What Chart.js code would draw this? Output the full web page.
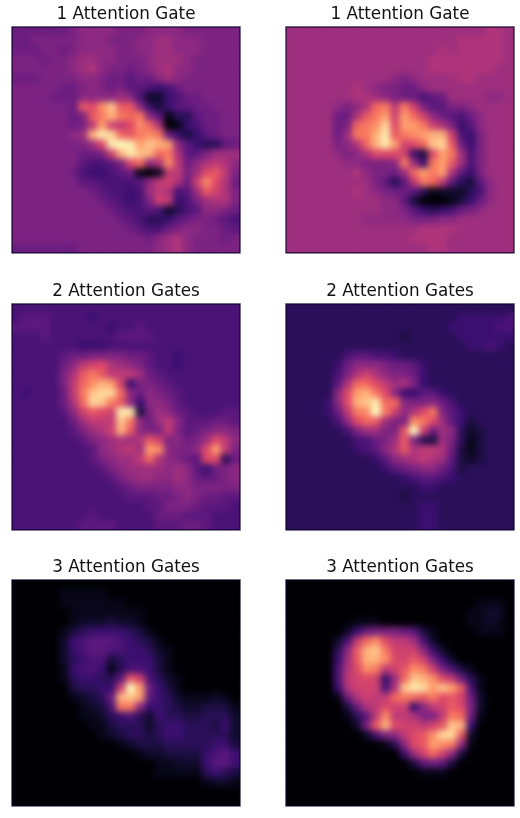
<!DOCTYPE html>
<html>
<head>
<meta charset="utf-8">
<script src="https://cdn.jsdelivr.net/npm/chart.js@4"></script>
<style>
  html, body { margin: 0; padding: 0; background: #fff; }
  #page { position: relative; width: 520px; height: 818px; overflow: hidden; }
  #page div { position: absolute; width: 252px; height: 260px; }
</style>
</head>
<body>
<div id="page"></div>
<script>
// a = lowest of the colour scale, z = highest, spaces only make the rows easier to count
const gate1Left = [
  'iiiiii jkkkkj jjkkkk jjjjjj',
  'iijjjj jkkkjj jkkllk kkjjjj',
  'iiijji jkkkkj jkkllk kkjjjj',
  'jjjijj kllkkj jjklll kjjjjj',
  'jjjjjj klmkjj ijklmk kjjjjj',
  'iiijjj jkkjii hiiklk jjjjjj',
  'jjjjji ijkjij hhgfgi jjjjjj',
  'jjjjii ikkkkl kgccfg iijjjj',
  'jjjjjj iqptwq qkfdfh hiijjj',
  'jjjjjj ijqsvs rskhbe ehiijj',
  'jjjjjj ijnuon ptrmab fgiijj',
  'jjjjjj klvyxr qstsif dfhijj',
  'jjjjjj jjlpyz yuwvuk hfeehi',
  'jjjjjj jiijov ywvrsm hhjlll',
  'jjjjjj jhgghj prkmtn ikmnmk',
  'jjjjjj igffgh ibacnn jlpqnj',
  'jjjjjj jhhggg ghknom iotpmi',
  'jjjjjj jjihgg fglnmg hlqomj',
  'jjjjjj jjjihg fgjonf gjlmmj',
  'jjjjjj jjjjih gghgce ghkkji',
  'jjjjjj jjjjji hgeefh ijjihg',
  'jjjjjj jjjjjj ihggij kkjjih',
  'jjjjjj jjjjjj jjiklm kjjjij',
  'iiiiii ijjjjj jjjklm kjjjjj'
]
const gate1Right = [
  'llllll llllll llllll lllmml',
  'llllll llllll llllll mmmmml',
  'llllll llllll llllml mmmmml',
  'llllll llllll lllmmm mmmmml',
  'llllll llllll lllmmm mmmmll',
  'llllll lllllk jkllll mmllll',
  'llllll lmlkjj iiklll llllll',
  'llllll lmmlkj iighil lllkkl',
  'lllllk jkmrsn sojhhj jkllll',
  'llllli imqsuo urokih giklll',
  'llllli jrstxp uusomj fhklll',
  'llllli lssvyq stuvvo gfjlll',
  'lllllj kmrvyu oprwxq ifjlll',
  'lllllk jkmppp ofdpus lgjlll',
  'llllll kkjjjk slfsuq lgjlll',
  'llllll lmkjji lrusum hfjlll',
  'llllll llljhe hnsrnh edhkll',
  'llllll lmlkji ihebcc cegkll',
  'llllll llllkk hdaaab dfikll',
  'llllll llllkk jhfefg ijklll',
  'llllll llkkkk kjjjkk llllll',
  'llllll llllll llmmmm llllll',
  'llllll llllll lmmmml llllll',
  'llllll llllll lllmml llllll'
]
const gate2Left = [
  'gggggg gggggg gggggg gggggg',
  'ghhhgg ggfggg gggggg gggggg',
  'hhhhgg ggggfg ghgggg gggggg',
  'ggghgg gggggh hhhggg gggggg',
  'gggggg gfffgg gggggg gggggg',
  'gggggh iijjjj iihggf gggggg',
  'gggggi knopml kjhggf gggggg',
  'gggggj mqsqnn nlihgg gggggg',
  'gggggj nrtvuo fjjihg gggggg',
  'gfgggi nswxxr kikjih gggggg',
  'gggggi mrxwsq kfkkjh gggggg',
  'gggggh koqpoy ydjlki hggghh',
  'gggggg ilnnnw skilnk hhhiih',
  'gggggg hjlmov qkjjnj hijkkj',
  'gggggg ghjklm lmqojk ijlpnk',
  'gggggg gghklm nlutkj jkpunj',
  'gggggg gghjkl lnrmkj ihppei',
  'gggggg ggghjk llllkl khfijk',
  'gggggg gggghj kllkkl kihijk',
  'gggggg gggggh ijjjjk kjjjjj',
  'gggggg gggggg hhhiij kjiihh',
  'gggggg gggggg gghhjj jihhhg',
  'gggggg gghggg gggiii hhhggg',
  'gggggg ghhhhg ggghhh iihggg'
]
const gate2Right = [
  'eeeeee eeeeee eeeeee eeeeee',
  'eeeeee eeeeee eeeeee fffffg',
  'eeeeee eeeeee eeeeef ffffgg',
  'eeeeee eeeeee deeeee ffffff',
  'eeeeee eeeeee eeeeee effgfe',
  'eeeeee ghhggf eeeeee eeeeee',
  'eeeeef ikkkji ihfeee eeeeee',
  'eeeeeg jmomkj jifeee eeeeee',
  'eeeeeh mrrpnl mjfeee eeeeee',
  'eeeeek puvspk ffhhfe eeeeee',
  'eeeefk pvwyrr kjjkig eeeeee',
  'eeeefi nstzso kmpsjh feeeee',
  'eeeeeg kprqlj jtsplh fdeeee',
  'eeeeee gjlljj qzoilk ecdeee',
  'eeeeee eggijl qjedlj ebdeee',
  'eeeeee efghkm qmnnmi dbdeee',
  'eeeeee eeefhk lmnmlh dcdeee',
  'eeeeee eeeefh ijkkig deeeee',
  'eeeeee eeeeee fghhgf eeeeee',
  'eeeeee eeeeee eeffee eeeeee',
  'eeeeee eeeeee deeeee eeeeee',
  'eeeeee eeeeee eeffee eeeeee',
  'eeeeee eeeeee eeffee eeeeee',
  'eeeeee eeeeee eeffee eeeeee'
]
const gate3Left = [
  'aaaaaa aaaaaa aaaaaa aaaaaa',
  'aaaaab bbbbaa aaaaaa aaaaaa',
  'aaaaab bbbbbb aaaaaa aaaaaa',
  'aaaaaa bbbbbb bbaaaa aaaaaa',
  'aaaaaa bcccdc cbaaaa aaaaaa',
  'aaaaab deffff edbaaa aaaaaa',
  'aaaaac fghhhg fedbaa aaaaaa',
  'aaaaac fghhgg ffecba aaaaaa',
  'aaaaac efggde fffdba aaaaaa',
  'aaaaab fggfbe ggfdba aaaaaa',
  'aaaaab effeeh qogecb aaaaaa',
  'aaaaaa deeffo zuifdb aaaaaa',
  'aaaaaa bcdeiv wuhfec bbbcba',
  'aaaaaa abcdgs skffed ccdddb',
  'aaaaaa abbcef gecfee ddeeec',
  'aaaaaa aabbde eeceff eeedfc',
  'aaaaaa aaabcd eedeff eeeeec',
  'aaaaaa aaaaab cdddee eeeffd',
  'aaaaaa aaaaaa abccdd ddfghf',
  'aaaaaa aaaaaa aaabbc ccfhhf',
  'aaaaaa aaaaaa aaabbb bbefed',
  'aaaaaa aaaaaa aaaaaa aabccb',
  'aaaaaa aaaaaa aaaaaa aaaaaa',
  'aaaaaa aaaaaa aaaaaa aaaaaa'
]
const gate3Right = [
  'aaaaaa aaaaaa aaaaaa aaaaaa',
  'aaaaaa aaaaaa aaaaaa aaaaaa',
  'aaaaaa aaaaaa aaaaaa aabbba',
  'aaaaaa aaaaaa aaaaaa abbcca',
  'aaaaaa abbbaa aaaaaa abbcba',
  'aaaaaa cfijjj ihdbaa aabbba',
  'aaaaac gnrtpn nlgcaa aaaaaa',
  'aaaaae kqvwso ookfca aaaaaa',
  'aaaaaf lqvvtp oqojfc aaaaaa',
  'aaaaag mptsno qtsojg dbaaaa',
  'aaaaag nopofl rwvtpn iebaaa',
  'aaaaaf mooogm wyxuwu qgbaaa',
  'aaaaab imonnr srqspq oicaaa',
  'aaaaaa dimnpo ofknoq pjcaaa',
  'aaaaaa behntn nmjjns ribaaa',
  'aaaaaa acjqvp oonoqw vfaaaa',
  'aaaaaa aacgjk npqtxx qcaaaa',
  'aaaaaa aaaabe kpquts kbaaaa',
  'aaaaaa aaaaaa florok daaaaa',
  'aaaaaa aaaaaa adhihd aaaaaa',
  'aaaaaa aaaaaa aabbba aaaaaa',
  'aaaaaa aaaaaa aaaaaa aaaaaa',
  'aaaaaa aaaaaa aaaaaa aaaaaa',
  'aaaaaa aaaaaa aaaaaa aaaaaa'
]
const titles = ['1 Attention Gate', '1 Attention Gate', '2 Attention Gates', '2 Attention Gates', '3 Attention Gates', '3 Attention Gates']
const grids = [gate1Left, gate1Right, gate2Left, gate2Right, gate3Left, gate3Right]
const magma = ['#000004', '#140e36', '#3b0f70', '#641a80', '#8c2981', '#b73779', '#de4968', '#f7705c', '#fe9f6d', '#fecf92', '#fcfdbf']

const lefts = [0, 274]
const tops = [0, 277, 553]
const N = 24

function hex(c, i) { return parseInt(c.substr(1 + i * 2, 2), 16) }

function magmaColor(v) {
  let p = v * (magma.length - 1)
  let i = Math.min(Math.floor(p), magma.length - 2)
  let f = p - i
  let rgb = [0, 1, 2].map(k => Math.round(hex(magma[i], k) + (hex(magma[i + 1], k) - hex(magma[i], k)) * f))
  return 'rgb(' + rgb.join(',') + ')'
}

// soften the cells like the interpolated image, and put the frame on top
const imagePlugin = {
  id: 'imagePlugin',
  afterDatasetsDraw(chart) {
    let a = chart.chartArea, c = chart.ctx
    c.save()
    c.beginPath()
    c.rect(a.left, a.top, a.right - a.left, a.bottom - a.top)
    c.clip()
    c.filter = 'blur(3px)'
    c.drawImage(chart.canvas, 0, 0, chart.width, chart.height)
    c.restore()
  },
  afterDraw(chart) {
    let a = chart.chartArea, c = chart.ctx
    c.save()
    c.strokeStyle = 'rgba(10,0,40,0.75)'
    c.lineWidth = 1.5
    c.strokeRect(a.left, a.top, a.right - a.left, a.bottom - a.top)
    c.restore()
  }
}

grids.forEach(function (grid, n) {
  let box = document.createElement('div')
  box.style.left = lefts[n % 2] + 'px'
  box.style.top = tops[Math.floor(n / 2)] + 'px'
  let canvas = document.createElement('canvas')
  canvas.width = 252
  canvas.height = 260
  box.appendChild(canvas)
  document.getElementById('page').appendChild(box)

  let points = [], colors = []
  grid.forEach(function (row, y) {
    row.replace(/ /g, '').split('').forEach(function (ch, x) {
      let v = (ch.charCodeAt(0) - 97) / 25
      points.push({ x: x + 0.5, y: y + 0.5 })
      colors.push(magmaColor(v))
    })
  })

  new Chart(canvas, {
    type: 'scatter',
    data: {
      datasets: [{
        data: points,
        pointStyle: 'rect',
        pointRadius: 7.1,
        pointBorderWidth: 0,
        pointBackgroundColor: colors,
        clip: 0
      }]
    },
    plugins: [imagePlugin],
    options: {
      responsive: false,
      animation: false,
      devicePixelRatio: 1,
      layout: { padding: { left: 12, right: 12, top: 0, bottom: 2 } },
      scales: {
        x: { display: false, min: 0, max: N },
        y: { display: false, min: 0, max: N, reverse: true }
      },
      plugins: {
        legend: { display: false },
        tooltip: { enabled: false },
        title: {
          display: true,
          text: titles[n],
          color: '#111',
          font: { family: 'DejaVu Sans', size: 16.8, weight: 'normal' },
          padding: { top: 5, bottom: 1.8 }
        }
      }
    }
  })
  canvas.style.display = 'block'
})
</script>
</body>
</html>
